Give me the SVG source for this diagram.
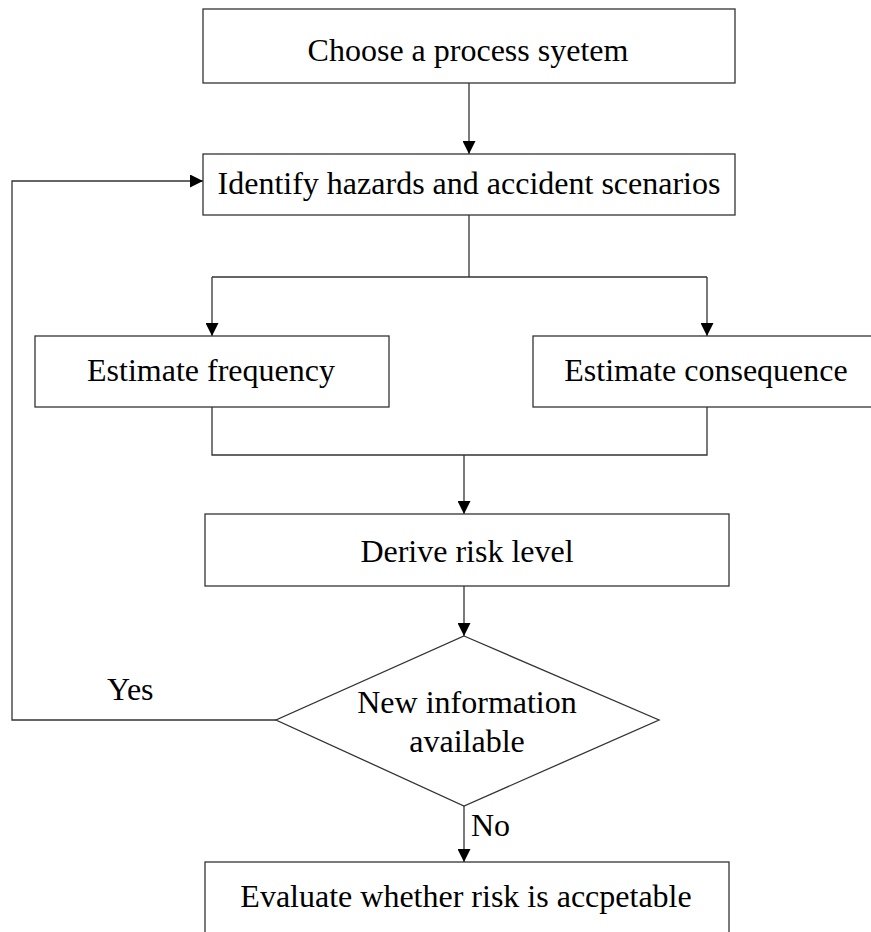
<svg xmlns="http://www.w3.org/2000/svg" width="871" height="932" viewBox="0 0 871 932">
  <style>
    .box { fill: #ffffff; stroke: #333333; stroke-width: 1.3; }
    .lbl { font-family: "Liberation Serif", "Times New Roman", serif; font-size: 32px; fill: #000000; text-anchor: middle; }
    .tag { font-family: "Liberation Serif", "Times New Roman", serif; font-size: 32px; fill: #000000; }
    .wire { fill: none; stroke: #333333; stroke-width: 1.3; }
    .arr { marker-end: url(#head); }
  </style>
  <defs>
    <marker id="head" viewBox="0 0 13 13" refX="13" refY="6.5" markerWidth="13" markerHeight="13" markerUnits="userSpaceOnUse" orient="auto">
      <path d="M0,0 L13,6.5 L0,13 Z" fill="#000000"/>
    </marker>
  </defs>

  <rect width="871" height="932" fill="#ffffff"/>

  <!-- connectors -->
  <g id="connectors">
    <path class="wire arr" d="M469,83 V154"/>
    <path class="wire" d="M469,215 V277 M212,277 H707"/>
    <path class="wire arr" d="M212,277 V336"/>
    <path class="wire arr" d="M707,277 V336"/>
    <path class="wire" d="M212,407 V455 H707 V407"/>
    <path class="wire arr" d="M464,455 V514"/>
    <path class="wire arr" d="M464,586 V636"/>
    <path class="wire arr" d="M276,720 H12 V181 H203"/>
    <path class="wire arr" d="M464,806 V862"/>
    <text class="tag" x="107" y="700">Yes</text>
    <text class="tag" x="471" y="836">No</text>
  </g>

  <!-- nodes -->
  <g id="choose-system">
    <rect class="box" x="203" y="9" width="532" height="74"/>
    <text class="lbl" x="468" y="61">Choose a process syetem</text>
  </g>
  <g id="identify-hazards">
    <rect class="box" x="203" y="154" width="532" height="61"/>
    <text class="lbl" x="469" y="194">Identify hazards and accident scenarios</text>
  </g>
  <g id="estimate-frequency">
    <rect class="box" x="35" y="336" width="354" height="71"/>
    <text class="lbl" x="211" y="381">Estimate frequency</text>
  </g>
  <g id="estimate-consequence">
    <rect class="box" x="533" y="336" width="352" height="71"/>
    <text class="lbl" x="706" y="381">Estimate consequence</text>
  </g>
  <g id="derive-risk">
    <rect class="box" x="205" y="514" width="524" height="72"/>
    <text class="lbl" x="467" y="562">Derive risk level</text>
  </g>
  <g id="new-information">
    <polygon class="box" points="464,636 659,720 464,806 276,720"/>
    <text class="lbl" x="467" y="713">New information</text>
    <text class="lbl" x="467" y="752">available</text>
  </g>
  <g id="evaluate-risk">
    <rect class="box" x="205" y="862" width="524" height="80"/>
    <text class="lbl" x="466" y="907">Evaluate whether risk is accpetable</text>
  </g>
</svg>
